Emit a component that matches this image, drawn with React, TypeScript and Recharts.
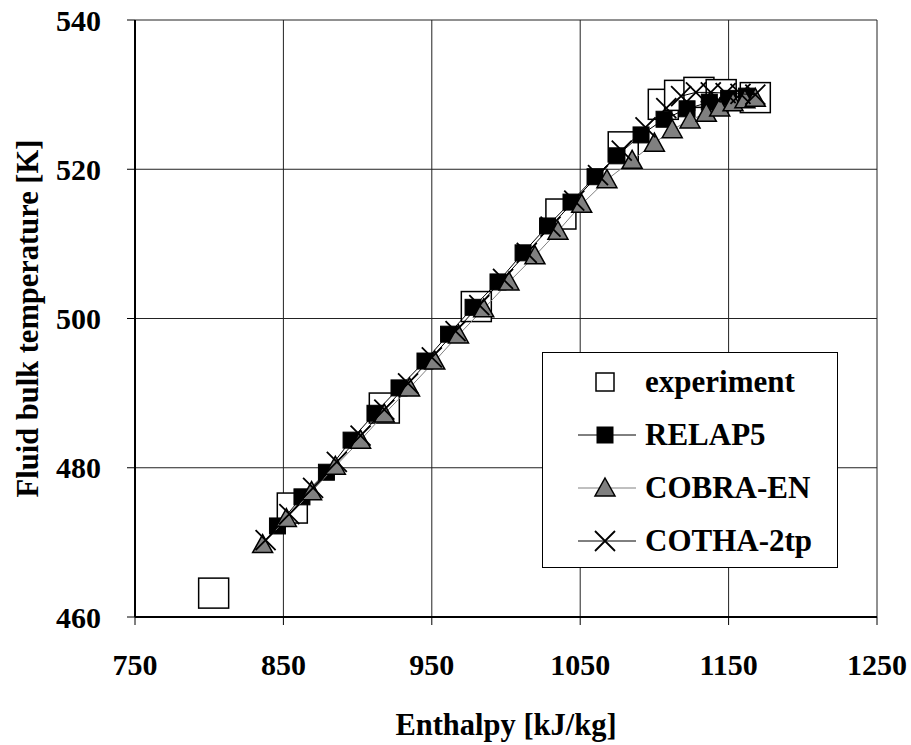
import React from 'react';
import {
  ScatterChart,
  Scatter,
  XAxis,
  YAxis,
  CartesianGrid,
  Legend,
} from 'recharts';

// enthalpy [kJ/kg] and bulk temperature [K]
const expH = [803, 856, 918, 980, 1037, 1079, 1106, 1117, 1130, 1145, 1168];
const expT = [463.2, 474.6, 488.0, 501.6, 514.0, 523.0, 528.7, 529.9, 530.3, 530.0, 529.6];

const relapH = [846, 862.5, 879, 895.6, 911.7, 927.9, 945.4, 961.3, 977.8, 994.6, 1011.5, 1028, 1043.8, 1060, 1074.8, 1091, 1106.5, 1122, 1137, 1150, 1162];
const relapT = [472.2, 476.1, 479.4, 483.7, 487.3, 490.7, 494.3, 497.9, 501.5, 504.9, 508.8, 512.4, 515.6, 519.0, 521.8, 524.6, 526.7, 528.1, 529.0, 529.5, 529.8];

const cobraH = [836, 852, 869, 885, 902, 918, 935, 952, 968, 985, 1002, 1019.5, 1035, 1051, 1068, 1085, 1100, 1112, 1124, 1135, 1144, 1153, 1161, 1168];
const cobraT = [469.7, 473.2, 476.8, 480.2, 483.7, 487.2, 490.7, 494.3, 497.8, 501.3, 504.9, 508.4, 511.7, 515.3, 518.6, 521.2, 523.5, 525.3, 526.6, 527.5, 528.2, 528.9, 529.3, 529.5];

const cothaH = [838, 854, 870, 886, 902, 918, 934, 950, 966, 982, 998, 1014, 1030, 1046, 1062, 1078, 1094, 1108, 1118, 1128, 1138, 1148, 1158, 1168];
const cothaT = [470.3, 473.8, 477.3, 480.8, 484.3, 487.8, 491.3, 494.8, 498.3, 501.8, 505.3, 508.8, 512.3, 515.8, 519.2, 522.5, 525.6, 528.2, 529.8, 530.3, 530.3, 530.2, 530.1, 530.0];

const xTicks = [750, 850, 950, 1050, 1150, 1250];
const yTicks = [460, 480, 500, 520, 540];

const zip = (h: number[], t: number[]) => h.map((x, i) => ({ x, y: t[i] }));

const FONT = '"Liberation Serif", "Times New Roman", serif';

const OpenSquare = (p: any) => (
  <rect x={p.cx - 15} y={p.cy - 15} width={30} height={30} fill="#fff" stroke="#000" strokeWidth={1.5} />
);
const BlackSquare = (p: any) => (
  <rect x={p.cx - 8} y={p.cy - 8} width={16} height={16} fill="#000" stroke="#000" />
);
const Triangle = (p: any) => (
  <path d={`M${p.cx},${p.cy - 10}L${p.cx + 10},${p.cy + 8}L${p.cx - 10},${p.cy + 8}Z`} fill="#808080" stroke="#000" strokeWidth={1.5} />
);
const Cross = (p: any) => (
  <path d={`M${p.cx - 10},${p.cy - 10}L${p.cx + 10},${p.cy + 10}M${p.cx + 10},${p.cy - 10}L${p.cx - 10},${p.cy + 10}`} stroke="#000" strokeWidth={1.8} fill="none" />
);

const legendItems = [
  { name: 'experiment', shape: 'open', line: null },
  { name: 'RELAP5', shape: 'black', line: '#000' },
  { name: 'COBRA-EN', shape: 'tri', line: '#808080' },
  { name: 'COTHA-2tp', shape: 'cross', line: '#000' },
];

const renderLegend = () => (
  <svg width={296} height={216} style={{ display: 'block' }}>
    <rect x={0.5} y={0.5} width={295} height={215} fill="#fff" stroke="#000" />
    {legendItems.map((it, i) => {
      const cy = 30 + i * 53;
      const cx = 63;
      return (
        <g key={it.name}>
          {it.line && <line x1={36} x2={94} y1={cy} y2={cy} stroke={it.line} />}
          {it.shape === 'open' && <rect x={cx - 9} y={cy - 9} width={18} height={18} fill="#fff" stroke="#000" strokeWidth={1.5} />}
          {it.shape === 'black' && <BlackSquare cx={cx} cy={cy} />}
          {it.shape === 'tri' && <Triangle cx={cx} cy={cy} />}
          {it.shape === 'cross' && <Cross cx={cx} cy={cy} />}
          <text x={103} y={cy + 10} fontFamily={FONT} fontWeight="bold" fontSize={31} fill="#000">
            {it.name}
          </text>
        </g>
      );
    })}
  </svg>
);

const XTitle = (props: any) => {
  const vb = props.viewBox;
  return (
    <text x={vb.x + vb.width / 2} y={vb.y + 118} textAnchor="middle" fontFamily={FONT} fontWeight="bold" fontSize={30.5} fill="#000">
      Enthalpy [kJ/kg]
    </text>
  );
};

const YTitle = (props: any) => {
  const vb = props.viewBox;
  const cy = vb.y + vb.height / 2;
  return (
    <text x={38} y={cy} transform={`rotate(-90, 38, ${cy})`} textAnchor="middle" fontFamily={FONT} fontWeight="bold" fontSize={30.5} fill="#000">
      Fluid bulk temperature [K]
    </text>
  );
};

const tickStyle = { fontFamily: FONT, fontWeight: 'bold', fontSize: 30, fill: '#000' };

export default function App() {
  return (
    <div style={{ position: 'absolute', left: 0, top: 0, background: '#fff' }}>
      <ScatterChart width={911} height={745} margin={{ top: 20, right: 34, left: 0, bottom: 0 }}>
        <CartesianGrid stroke="#222" strokeWidth={1} />
        <XAxis
          type="number"
          dataKey="x"
          domain={[750, 1250]}
          ticks={xTicks}
          height={128}
          tickSize={8}
          tickMargin={29}
          tick={tickStyle}
          stroke="#000"
          axisLine={{ stroke: '#000', strokeWidth: 2 }}
          tickLine={{ stroke: '#000' }}
          allowDataOverflow
          label={<XTitle />}
        />
        <YAxis
          type="number"
          dataKey="y"
          domain={[460, 540]}
          ticks={yTicks}
          width={135}
          tickSize={8}
          tickMargin={26}
          tick={tickStyle}
          axisLine={{ stroke: '#000', strokeWidth: 2 }}
          tickLine={{ stroke: '#000' }}
          allowDataOverflow
          label={<YTitle />}
        />
        <Legend
          layout="vertical"
          align="center"
          verticalAlign="middle"
          content={renderLegend}
          wrapperStyle={{ left: 542, top: 352, width: 296, height: 216 }}
        />
        <Scatter name="experiment" data={zip(expH, expT)} shape={OpenSquare} isAnimationActive={false} />
        <Scatter
          name="RELAP5"
          data={zip(relapH, relapT)}
          shape={BlackSquare}
          line={{ stroke: '#000', strokeWidth: 1 }}
          lineType="joint"
          isAnimationActive={false}
        />
        <Scatter
          name="COBRA-EN"
          data={zip(cobraH, cobraT)}
          shape={Triangle}
          line={{ stroke: '#808080', strokeWidth: 1 }}
          lineType="joint"
          isAnimationActive={false}
        />
        <Scatter
          name="COTHA-2tp"
          data={zip(cothaH, cothaT)}
          shape={Cross}
          line={{ stroke: '#000', strokeWidth: 1 }}
          lineType="joint"
          isAnimationActive={false}
        />
      </ScatterChart>
    </div>
  );
}
